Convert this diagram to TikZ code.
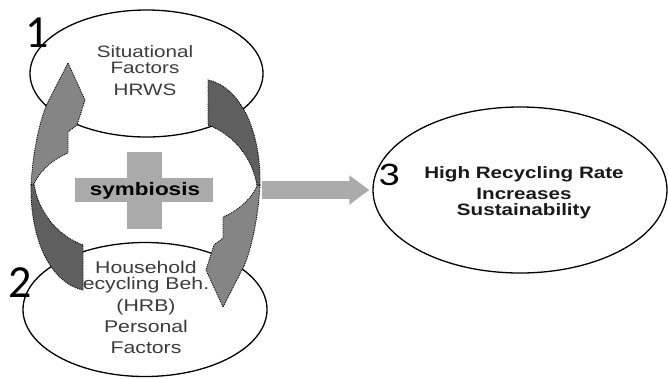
\documentclass[tikz,border=0pt]{standalone}
\usepackage{fontspec}
\setmainfont{Liberation Sans}[FakeStretch=1.25]
\newfontfamily\numfont{Carlito}
\newfontfamily\numwide{Carlito}[FakeStretch=1.3]
\usetikzlibrary{shapes.geometric,arrows.meta}
\definecolor{crossgray}{HTML}{AAAAAA}
\definecolor{headgray}{HTML}{858585}
\definecolor{tailgray}{HTML}{5F5F5F}
\definecolor{labelgray}{HTML}{3C3C3C}
\tikzset{
  oval/.style={ellipse,draw,line width=1.3pt,fill=white,inner sep=0pt},
  factortext/.style={align=center,text=labelgray,inner sep=0pt},
  goaltext/.style={align=center,text=black!90,inner sep=0pt,
    font=\bfseries\fontsize{16.5}{16}\selectfont},
  stagenum/.style={inner sep=0pt,font=\numfont\fontsize{46}{46}\selectfont},
  headpart/.style={fill=headgray,draw=black,densely dotted,line width=0.9pt},
  tailpart/.style={fill=tailgray,draw=black,densely dotted,line width=0.9pt},
  bigarrow/.style={draw=crossgray,line width=18pt,
    -{Triangle[length=20pt,width=28pt]}}
}

\begin{document}
\begin{tikzpicture}[x=1pt,y=-1pt]
\useasboundingbox (0,0) rectangle (668,378);

% The three ovals
\node[oval,minimum width=233pt,minimum height=127pt] (situation) at (146.5,73.5) {};
\node[oval,minimum width=244pt,minimum height=134pt] (household) at (145,309.5) {};
\node[oval,minimum width=294pt,minimum height=166pt] (goal) at (520,190) {};

% Their texts
\node[factortext,font=\fontsize{16.5}{16}\selectfont] (situText) at (145,70.8)
  {Situational\\Factors\\[5.7pt]HRWS};
\node[factortext,font=\fontsize{17}{16}\selectfont] (houseText) at (146,307.9)
  {Household\\ecycling Beh.\\[6pt](HRB)\\[5pt]Personal\\[5pt]Factors};
\node[goaltext] (goalText) at (524,193)
  {High Recycling Rate\\[5pt]Increases\\Sustainability};

% Plus sign in the middle
\fill[crossgray] (127,152) rectangle (162,229);
\fill[crossgray] (75,178) rectangle (213,202);
\node[anchor=base,inner sep=0pt,font=\bfseries\fontsize{18}{18}\selectfont]
  (symb) at (145,195.5) {symbiosis};

% Straight arrow to the result
\coordinate (link) at (262,190);
\draw[bigarrow,shorten >=3pt] (link) -- (goal.west);

% Curved arrows; the right one is the left one turned half round
\foreach \turn in {0,180}
{
  \begin{scope}[rotate around={\turn:(145.5,185)}]
    \filldraw[tailpart] (31,185) .. controls (30,235) and (48,282) .. (83,290)
      -- (83,245) .. controls (58,236) and (38,212) .. (34,184) -- cycle;
    \filldraw[headpart] (31,185) .. controls (33,150) and (40,120) .. (47,104)
      -- (68,63) -- (85,100) -- (77,125) -- (68,132) -- (68,153)
      .. controls (55,158) and (40,170) .. (34,184) -- cycle;
  \end{scope}
}

% Stage numbers
\node[stagenum] (num1) at (37.5,32.5) {1};
\node[stagenum] (num2) at (20,283) {2};
\node[inner sep=0pt,font=\numwide\fontsize{33}{33}\selectfont] (num3) at (389,175) {3};

\end{tikzpicture}
\end{document}
